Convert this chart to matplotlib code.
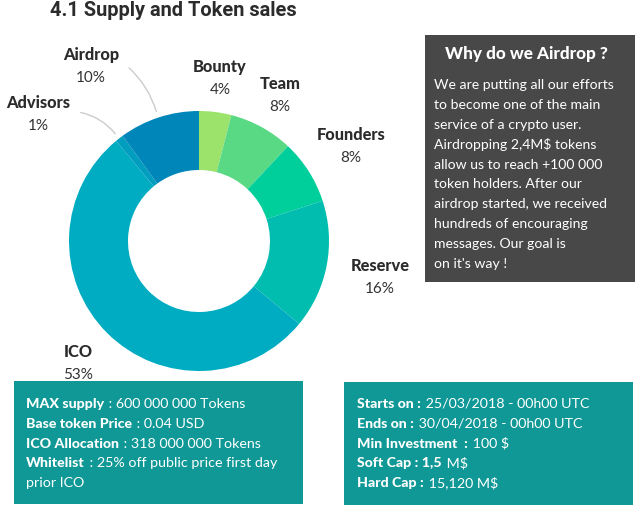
import matplotlib
matplotlib.use("Agg")
import matplotlib.pyplot as plt
from matplotlib.patches import Rectangle

plt.rcParams['font.family'] = ['Lato', 'DejaVu Sans']

labels = ["Bounty", "Team", "Founders", "Reserve", "ICO", "Advisors", "Airdrop"]
values = [4, 8, 8, 16, 53, 1, 10]
colors = ["#9BE36B", "#5AD985", "#00CE9B", "#00BDB0", "#00ACC1", "#009DBF", "#0086B8"]

# where each label goes, pixels from the top left
label_x = [220, 280, 351, 380, 78, 38, 91]
label_y = [66, 83, 134, 265, 351, 102, 54]

airdrop_title = "Why do we Airdrop ?"
airdrop_lines = ["We are putting all our efforts", "to become one of the main",
                 "service of a crypto user.", "Airdropping 2,4M$ tokens",
                 "allow us to reach +100 000", "token holders. After our",
                 "airdrop started, we received", "hundreds of encouraging",
                 "messages. Our goal is", "on it's way !"]

left_box = [("MAX supply", " : 600 000 000 Tokens"),
            ("Base token Price", " : 0.04 USD"),
            ("ICO Allocation", " : 318 000 000 Tokens"),
            ("Whitelist", " : 25% off public price first day"),
            ("", "prior ICO")]
right_box = [("Starts on :", " 25/03/2018 - 00h00 UTC"),
             ("Ends on :", " 30/04/2018 - 00h00 UTC"),
             ("Min Investment  :", " 100 $"),
             ("Soft Cap : 1,5", " M$"),
             ("Hard Cap :", " 15,120 M$")]

fig = plt.figure(figsize=(6.4, 5.12), dpi=100)
ax = fig.add_axes([0, 0, 1, 1])

def Y(py):
    return 512 - py

ax.pie(values, colors=colors, startangle=90, counterclock=False,
       center=(199, Y(241)), radius=130, frame=True,
       wedgeprops=dict(width=59, linewidth=0))
ax.set_xlim(0, 640)
ax.set_ylim(0, 512)
ax.set_aspect('equal')
ax.axis('off')

ax.text(50, Y(10), "4.1 Supply and Token sales", fontsize=14.4, fontweight='bold',
        family=['Roboto', 'DejaVu Sans'], color="#2b2b2b", ha='left', va='center')

for name, val, x, y in zip(labels, values, label_x, label_y):
    ax.text(x, Y(y + 1), name, fontsize=11.8, fontweight='black', color="#2b2b2b", ha='center', va='center')
    ax.text(x, Y(y + 24), str(val) + "%", fontsize=11, color="#333333", ha='center', va='center')

# leader lines
ax.annotate("", xy=(157, Y(114)), xytext=(127, Y(66)),
            arrowprops=dict(arrowstyle='-', color="#cccccc", lw=1, connectionstyle="arc3,rad=-0.15"))
ax.annotate("", xy=(117, Y(136)), xytext=(78, Y(112)),
            arrowprops=dict(arrowstyle='-', color="#cccccc", lw=1, connectionstyle="arc3,rad=-0.2"))

# dark box
ax.add_patch(Rectangle((425, Y(282)), 210, 247, color="#484848", lw=0))
ax.text(526, Y(54), airdrop_title, fontsize=12.3, fontweight='black', color="white", ha='center', va='center')
for i, line in enumerate(airdrop_lines):
    ax.text(434, Y(85 + i * 19.9), line, fontsize=10.1, color="white", ha='left', va='center')

# teal boxes
ax.add_patch(Rectangle((14, Y(504)), 289, 123, color="#0F9896", lw=0))
ax.add_patch(Rectangle((344, Y(505)), 289, 123, color="#0F9896", lw=0))

def mixed_line(x, y, bold, plain):
    # bold part first, then the plain part starts where it ends
    r = fig.canvas.get_renderer()
    if bold:
        t = ax.text(x, Y(y), bold, fontsize=10.2, fontweight='black', color="white", ha='left', va='center')
        x = t.get_window_extent(r).x1 + 1
    ax.text(x, Y(y), plain, fontsize=10.3, color="white", ha='left', va='center')

for i, (b, p) in enumerate(left_box):
    mixed_line(26, 404 + i * 19.8, b, p)
for i, (b, p) in enumerate(right_box):
    mixed_line(357, 404 + i * 19.8, b, p)

fig.savefig("out.png", dpi=100)
